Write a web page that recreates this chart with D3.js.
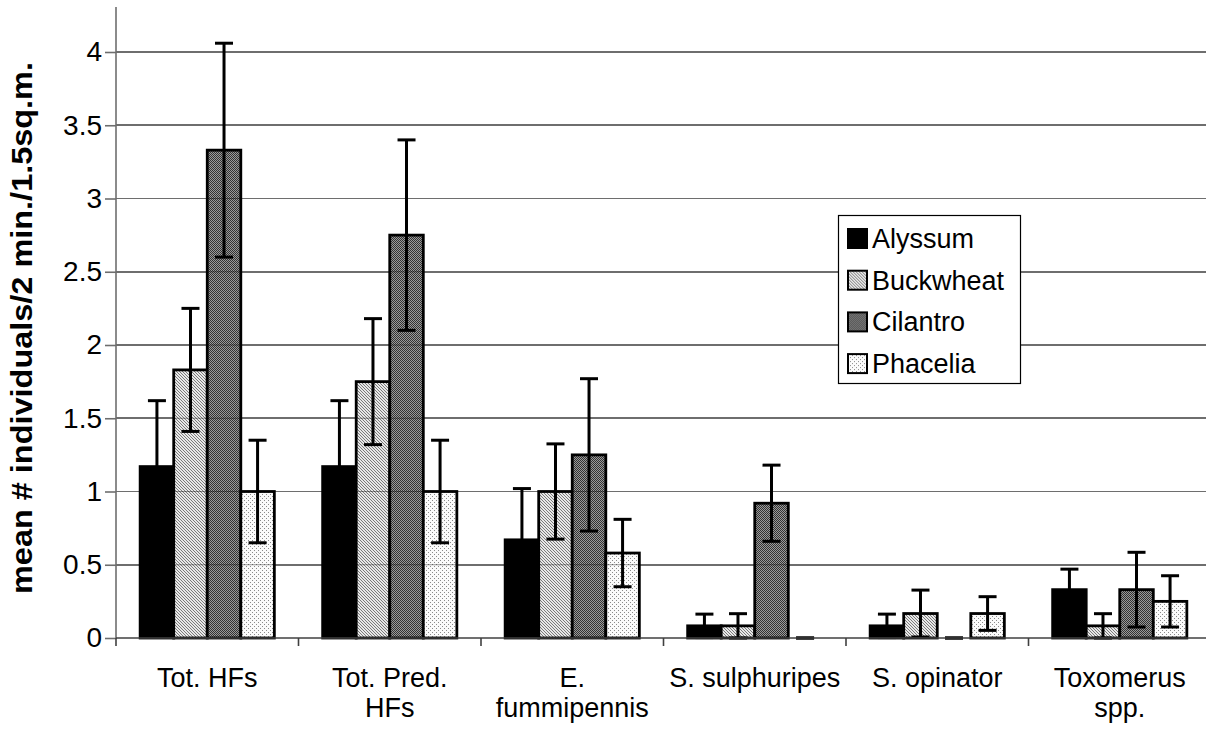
<!DOCTYPE html>
<html>
<head>
<meta charset="utf-8">
<script src="https://cdn.jsdelivr.net/npm/d3@7/dist/d3.min.js"></script>
<style>
  html, body { margin: 0; padding: 0; background: #fff; }
  svg { display: block; font-family: "Liberation Sans", Arial, sans-serif; }
</style>
</head>
<body>
<svg id="chart" width="1206" height="729"></svg>
<script>
// ---- data ----
const categories = ["Tot. HFs", "Tot. Pred. HFs", "E. fummipennis", "S. sulphuripes", "S. opinator", "Toxomerus spp."];
const categoryLabelLines = [["Tot. HFs"], ["Tot. Pred.", "HFs"], ["E.", "fummipennis"], ["S. sulphuripes"], ["S. opinator"], ["Toxomerus", "spp."]];
const seriesNames = ["Alyssum", "Buckwheat", "Cilantro", "Phacelia"];
const alyssum      = [1.17, 1.17, 0.67, 0.083, 0.083, 0.33];
const alyssumErr   = [0.45, 0.45, 0.35, 0.08, 0.08, 0.14];
const buckwheat    = [1.83, 1.75, 1.00, 0.083, 0.167, 0.083];
const buckwheatErr = [0.42, 0.43, 0.325, 0.083, 0.16, 0.083];
const cilantro     = [3.33, 2.75, 1.25, 0.92, 0, 0.33];
const cilantroErr  = [0.73, 0.65, 0.52, 0.26, 0, 0.255];
const phacelia     = [1.00, 1.00, 0.58, 0, 0.167, 0.25];
const phaceliaErr  = [0.35, 0.35, 0.23, 0, 0.115, 0.175];
const yTicks = [0, 0.5, 1, 1.5, 2, 2.5, 3, 3.5, 4];
const yTitle = "mean # individuals/2 min./1.5sq.m.";

const seriesValues = [alyssum, buckwheat, cilantro, phacelia];
const seriesErrors = [alyssumErr, buckwheatErr, cilantroErr, phaceliaErr];

// ---- layout ----
const left = 116, zeroY = 638, topY = 7, groupW = 182.5;
const right = left + categories.length * groupW;
const svg = d3.select("#chart");

const y = d3.scaleLinear().domain([0, 4]).range([zeroY, 52]);
const x0 = d3.scaleBand().domain(categories).range([left, right]).padding(0);
const x1 = d3.scaleBand().domain(seriesNames).range([0, x0.bandwidth()]).paddingInner(0).paddingOuter(0.72);

// ---- patterns ----
const defs = svg.append("defs");
function pixPattern(id, size, bg, pixels, col) {
  const p = defs.append("pattern").attr("id", id).attr("patternUnits", "userSpaceOnUse")
    .attr("width", size).attr("height", size);
  p.append("rect").attr("width", size).attr("height", size).attr("fill", bg);
  pixels.forEach(([px, py]) => p.append("rect").attr("x", px).attr("y", py)
    .attr("width", 1).attr("height", 1).attr("fill", col));
  return p;
}
pixPattern("pBuck", 3, "#e8e8e8", [[0,0],[1,1],[2,2]], "#7a7a7a");
pixPattern("pCil", 2, "#9a9a9a", [[0,0],[1,1]], "#333333");
pixPattern("pPha", 4, "#fbfbfb", [[0,0],[2,2]], "#8a8a8a");
const fills = ["#000000", "url(#pBuck)", "url(#pCil)", "url(#pPha)"];

// ---- gridlines ----
const gridTicks = yTicks.filter(t => t > 0);
svg.append("g").selectAll("line").data(gridTicks).join("line")
  .attr("x1", left).attr("x2", right)
  .attr("y1", d => y(d)).attr("y2", d => y(d))
  .attr("stroke", "#6e6e6e").attr("stroke-width", 1.6).attr("shape-rendering", "crispEdges");

// ---- bars ----
const barData = [];
categories.forEach((c, ci) => {
  seriesNames.forEach((s, si) => {
    barData.push({ c, s, si, v: seriesValues[si][ci], e: seriesErrors[si][ci] });
  });
});

const clip = defs.append("clipPath").attr("id", "barClip");
clip.selectAll("rect").data(barData.filter(d => d.v > 0 && d.si > 0)).join("rect")
  .attr("x", d => x0(d.c) + x1(d.s))
  .attr("y", d => y(d.v))
  .attr("width", x1.bandwidth())
  .attr("height", d => zeroY - y(d.v));

svg.append("g").selectAll("rect").data(barData.filter(d => d.v > 0)).join("rect")
  .attr("x", d => x0(d.c) + x1(d.s))
  .attr("y", d => y(d.v))
  .attr("width", x1.bandwidth())
  .attr("height", d => zeroY - y(d.v))
  .attr("fill", d => fills[d.si])
  .attr("stroke", "#000").attr("stroke-width", 2.8);

// faint gridlines showing through patterned bars
svg.append("g").attr("clip-path", "url(#barClip)").selectAll("line").data(gridTicks).join("line")
  .attr("x1", left).attr("x2", right)
  .attr("y1", d => y(d)).attr("y2", d => y(d))
  .attr("stroke", "#000").attr("stroke-opacity", 0.4).attr("stroke-width", 1.2);

// ---- error bars ----
const eb = svg.append("g").attr("stroke", "#000").attr("stroke-width", 3).attr("fill", "none");
const cx = d => x0(d.c) + x1(d.s) + x1.bandwidth() / 2;
eb.selectAll("line.v").data(barData).join("line").attr("class", "v")
  .attr("x1", cx).attr("x2", cx)
  .attr("y1", d => y(Math.max(0, d.v - d.e))).attr("y2", d => y(d.v + d.e));
eb.selectAll("line.t").data(barData).join("line").attr("class", "t")
  .attr("x1", d => cx(d) - 9).attr("x2", d => cx(d) + 9)
  .attr("y1", d => y(d.v + d.e)).attr("y2", d => y(d.v + d.e));
eb.selectAll("line.b").data(barData).join("line").attr("class", "b")
  .attr("x1", d => cx(d) - 9).attr("x2", d => cx(d) + 9)
  .attr("y1", d => y(Math.max(0, d.v - d.e))).attr("y2", d => y(Math.max(0, d.v - d.e)));

// ---- axes ----
svg.append("line").attr("x1", left).attr("x2", left).attr("y1", topY).attr("y2", zeroY + 1)
  .attr("stroke", "#6e6e6e").attr("stroke-width", 1.6);
const yAxis = svg.append("g").attr("transform", `translate(${left},0)`)
  .call(d3.axisLeft(y).tickValues(yTicks).tickSize(11).tickPadding(3).tickFormat(d3.format("")));
yAxis.select(".domain").remove();
yAxis.selectAll(".tick line").attr("stroke", "#6e6e6e").attr("stroke-width", 1.6);
yAxis.selectAll(".tick text").attr("font-size", 28).attr("fill", "#000")
  .attr("font-family", "'Liberation Sans', Arial, sans-serif");

svg.append("line").attr("x1", left).attr("x2", right).attr("y1", zeroY).attr("y2", zeroY)
  .attr("stroke", "#404040").attr("stroke-width", 1.6);
svg.append("g").selectAll("line").data(categories).join("line")
  .attr("x1", d => x0(d)).attr("x2", d => x0(d))
  .attr("y1", zeroY).attr("y2", zeroY + 8)
  .attr("stroke", "#404040").attr("stroke-width", 1.6);
const xl = svg.append("g").selectAll("text").data(categories).join("text")
  .attr("x", d => x0(d) + x0.bandwidth() / 2)
  .attr("y", 687)
  .attr("text-anchor", "middle").attr("font-size", 27).attr("fill", "#000");
xl.selectAll("tspan").data((d, i) => categoryLabelLines[i]).join("tspan")
  .attr("x", function () { return this.parentNode.getAttribute("x"); })
  .attr("dy", (d, i) => i === 0 ? 0 : 30)
  .text(d => d);

// y title
svg.append("text")
  .attr("transform", `translate(32,${(62 + 594) / 2}) rotate(-90)`)
  .attr("text-anchor", "middle")
  .attr("font-size", 30).attr("font-weight", "bold")
  .attr("textLength", 532).attr("lengthAdjust", "spacingAndGlyphs")
  .text(yTitle);

// ---- legend ----
const lg = svg.append("g");
lg.append("rect").attr("x", 838.5).attr("y", 215.5).attr("width", 182).attr("height", 168)
  .attr("fill", "#fff").attr("stroke", "#000").attr("stroke-width", 1.2);
const rows = lg.selectAll("g").data(seriesNames).join("g")
  .attr("transform", (d, i) => `translate(0,${238 + i * 41.7})`);
rows.append("rect").attr("x", 848).attr("y", -9).attr("width", 19).attr("height", 19)
  .attr("fill", (d, i) => fills[i]).attr("stroke", "#000").attr("stroke-width", 2);
rows.append("text").attr("x", 872).attr("y", 10).attr("font-size", 27).attr("fill", "#000").text(d => d);
</script>
</body>
</html>
